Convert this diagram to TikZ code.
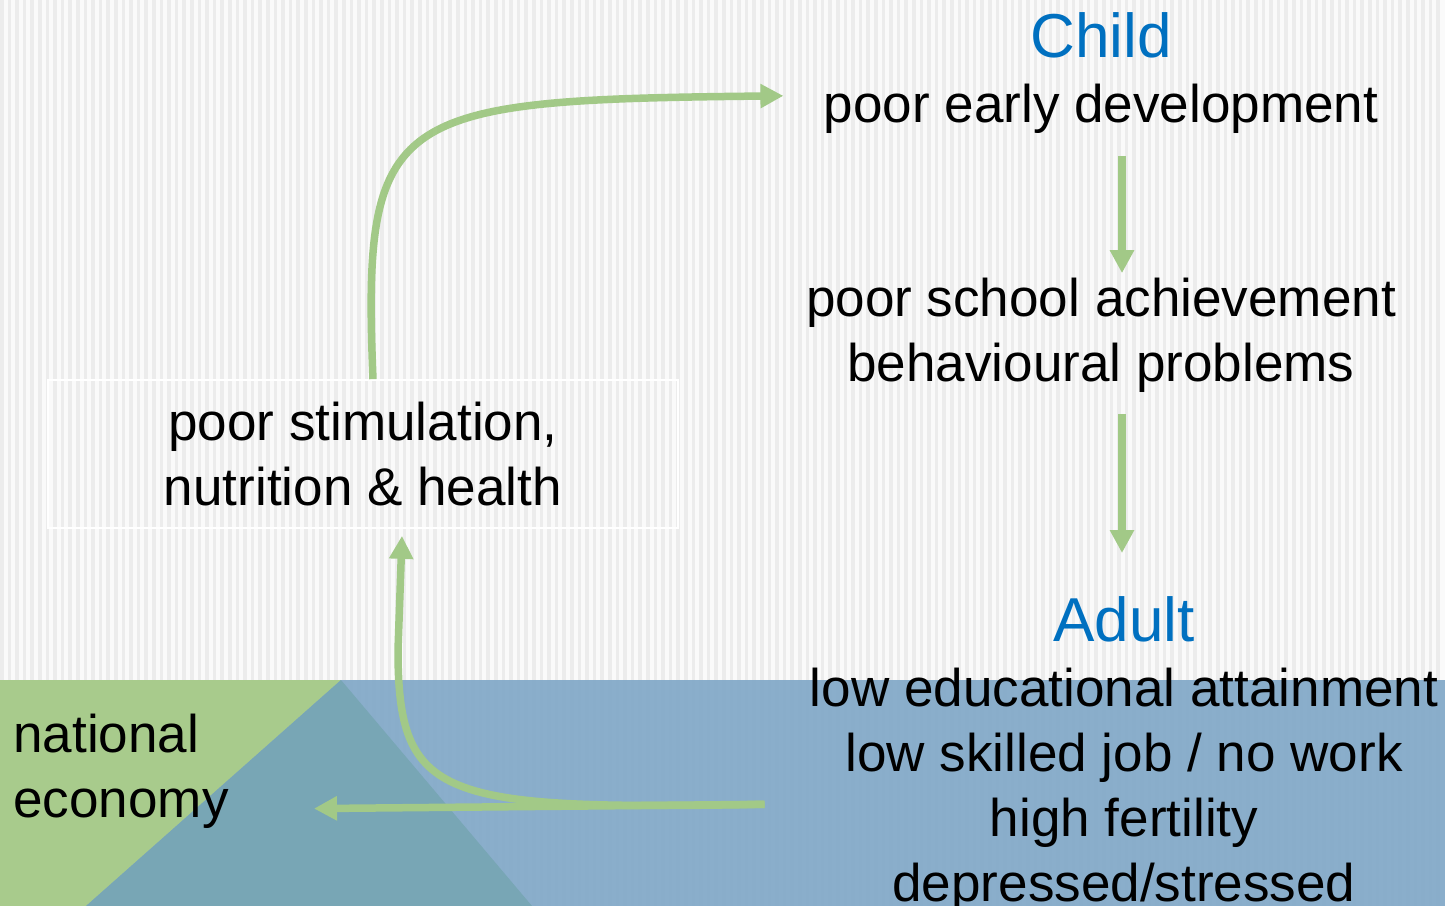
\documentclass[tikz,border=0pt]{standalone}
\usepackage{fontspec}
\setmainfont{Liberation Sans}
\usetikzlibrary{positioning,arrows.meta}
\definecolor{paper}{HTML}{FAFAFA}
\definecolor{stripegrey}{HTML}{ECECEC}
\definecolor{bandblue}{HTML}{82A9C8}
\definecolor{econgreen}{HTML}{A8CB8C}
\definecolor{tealshade}{HTML}{78A6B5}
\definecolor{flowgreen}{HTML}{A2C987}
\definecolor{titleblue}{HTML}{0070C0}
\newcommand\stagefont{\fontsize{35.3}{37}\selectfont\color{titleblue}}

\begin{document}
\begin{tikzpicture}[
    x=0.02cm, y=-0.02cm,
    node distance=2.88cm,
    txt/.style={align=center, inner sep=0pt, font=\fontsize{30.2}{37}\selectfont},
    cause/.style={txt, draw=white, line width=1pt, minimum width=12.6cm, minimum height=2.96cm},
    flow/.style={-{Triangle[length=0.46cm, width=0.46cm]}, line width=0.15cm, draw=flowgreen}
]
\useasboundingbox (0,0) rectangle (1445,906);
\fill[paper] (0,0) rectangle (1445,906);
\foreach \x in {0,7.6,...,1440}
    \fill[stripegrey] (\x,0) rectangle ++(3.6,906);
\fill[bandblue, fill opacity=0.93] (0,680) rectangle (1445,906);
\fill[econgreen] (0,680) -- (341,680) -- (86,906) -- (0,906) -- cycle;
\fill[tealshade] (341,680) -- (532,906) -- (86,906) -- cycle;

\node[txt, anchor=north] (child) at (1101,12.5) {{\stagefont Child}\\poor early development};
\node[txt, below=of child] (school) {poor school achievement\\behavioural problems};
\node[txt, anchor=north] (adult) at (1124,596) {{\stagefont Adult}\\low educational attainment\\low skilled job / no work\\high fertility\\depressed/stressed};
\node[cause] (stim) at (363,454) {poor stimulation,\\nutrition \& health};
\node[txt, align=left, anchor=north west] (economy) at (13,714) {national\\economy};

\coordinate (spine) at (1122,0);

\draw[flow, shorten <=0.44cm, shorten >=0.1cm] (child.south -| spine) -- (school.north -| spine);
\draw[flow, shorten <=0.42cm, shorten >=0.86cm] (school.south -| spine) -- (adult.north -| spine);
\draw[flow] ([xshift=0.2cm]stim.north) .. controls (362,110) and (390,100) .. ([xshift=-0.8cm,yshift=-0.45cm]child.west);
\draw[flow] ([xshift=-0.9cm,yshift=-1cm]adult.west) .. controls (440,810) and (398,800) .. (398,650) -- ([xshift=0.78cm,yshift=-0.14cm]stim.south);
\draw[flow] ([xshift=-0.9cm,yshift=-1cm]adult.west) -- ([xshift=1.7cm,yshift=-0.74cm]economy.east);
\end{tikzpicture}
\end{document}
